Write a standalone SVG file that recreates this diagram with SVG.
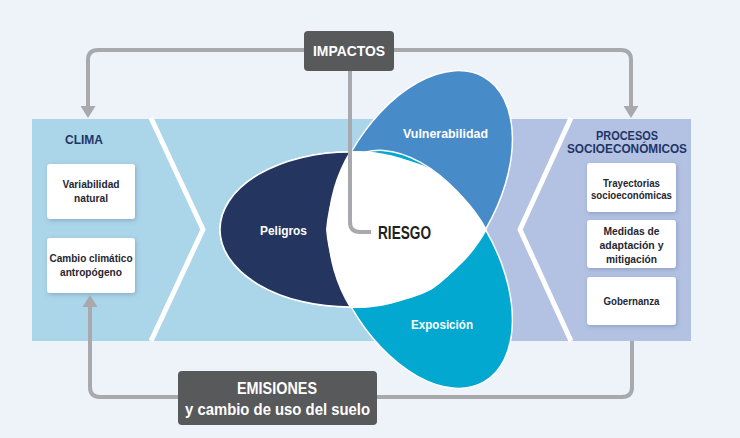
<svg xmlns="http://www.w3.org/2000/svg" width="740" height="438" viewBox="0 0 740 438">
<style>
.bg{fill:#EEF2F9}
.panelL{fill:#ABD5E9}
.panelR{fill:#B3C1E2}
.chev{fill:none;stroke:#fff;stroke-width:5;stroke-linejoin:round}
.conn{fill:none;stroke:#A7A9AC;stroke-width:4}
.dark{fill:#58595B}
.wbox{fill:#fff;filter:url(#sh)}
.t{font-family:"Liberation Sans",Arial,sans-serif;font-weight:bold;text-anchor:middle}
.title{font-size:13px;fill:#1F3566}
.small{font-size:11px;fill:#262631}
.petal{font-size:12.5px;fill:#fff}
.big{font-size:16px;fill:#fff}
.ell{stroke:#fff;stroke-width:1.5}
</style>
<defs>
<filter id="sh" x="-20%" y="-20%" width="140%" height="150%">
<feDropShadow dx="1" dy="1.5" stdDeviation="2" flood-color="#4A5E8C" flood-opacity="0.35"/>
</filter>
<marker id="arr" viewBox="0 0 12 15" refX="0" refY="7.5" markerWidth="12" markerHeight="15" markerUnits="userSpaceOnUse" orient="auto">
<path d="M0,0 L12,7.5 L0,15 Z" fill="#A7A9AC"/>
</marker>
<clipPath id="clipV"><ellipse cx="350" cy="229.5" rx="130" ry="77.5" transform="rotate(120 396 229.5)"/></clipPath>
<clipPath id="clipE"><ellipse cx="350" cy="229.5" rx="130" ry="77.5" transform="rotate(-120 396 229.5)"/></clipPath>
<clipPath id="clipLeft"><rect x="200" y="140" width="162" height="180"/></clipPath>
</defs>
<rect class="bg" x="0" y="0" width="740" height="438"/>

<g id="node-clima">
<rect class="panelL" x="32" y="119" width="480" height="222"/>
<polyline class="chev" points="151,118 203,229.5 151,341"/>
<text class="t title" x="84" y="144" textLength="38" lengthAdjust="spacingAndGlyphs">CLIMA</text>
</g>

<g id="node-procesos">
<rect class="panelR" x="512" y="119" width="179" height="222"/>
<polygon class="panelR" points="512,150 470,229.5 512,309"/>
<polyline class="chev" points="571,118 520,229.5 571,341"/>
<text class="t title" x="627" y="140" textLength="62" lengthAdjust="spacingAndGlyphs">PROCESOS</text>
<text class="t title" x="627" y="153" textLength="120" lengthAdjust="spacingAndGlyphs">SOCIOECONÓMICOS</text>
</g>

<g id="node-variabilidad">
<rect class="wbox" x="47" y="164" width="88" height="55" rx="3"/>
<text class="t small" x="91" y="188" textLength="57" lengthAdjust="spacingAndGlyphs">Variabilidad</text>
<text class="t small" x="91" y="202" textLength="34" lengthAdjust="spacingAndGlyphs">natural</text>
</g>

<g id="node-cambio">
<rect class="wbox" x="47" y="238" width="88" height="55" rx="3"/>
<text class="t small" x="91" y="261.5" textLength="83" lengthAdjust="spacingAndGlyphs">Cambio climático</text>
<text class="t small" x="91" y="275.5" textLength="62" lengthAdjust="spacingAndGlyphs">antropógeno</text>
</g>

<g id="node-trayectorias">
<rect class="wbox" x="587" y="163" width="89" height="49" rx="3"/>
<text class="t small" x="631.5" y="186.5" textLength="57" lengthAdjust="spacingAndGlyphs">Trayectorias</text>
<text class="t small" x="631.5" y="198.5" textLength="81" lengthAdjust="spacingAndGlyphs">socioeconómicas</text>
</g>

<g id="node-medidas">
<rect class="wbox" x="587" y="220" width="89" height="48" rx="3"/>
<text class="t small" x="631.5" y="235" textLength="56" lengthAdjust="spacingAndGlyphs">Medidas de</text>
<text class="t small" x="631.5" y="249" textLength="64" lengthAdjust="spacingAndGlyphs">adaptación y</text>
<text class="t small" x="631.5" y="262.5" textLength="51" lengthAdjust="spacingAndGlyphs">mitigación</text>
</g>

<g id="node-gobernanza">
<rect class="wbox" x="587" y="277" width="89" height="48" rx="3"/>
<text class="t small" x="631.5" y="305" textLength="56" lengthAdjust="spacingAndGlyphs">Gobernanza</text>
</g>

<g id="node-peligros">
<ellipse class="ell" cx="350" cy="229.5" rx="130" ry="77.5" fill="#243660"/>
</g>
<g id="node-vulnerabilidad">
<ellipse class="ell" cx="350" cy="229.5" rx="130" ry="77.5" transform="rotate(120 396 229.5)" fill="#478BC9"/>
</g>
<g id="node-exposicion">
<ellipse class="ell" cx="350" cy="229.5" rx="130" ry="77.5" transform="rotate(-120 396 229.5)" fill="#02A8D0"/>
</g>
<g id="peligros-left" clip-path="url(#clipLeft)">
<ellipse class="ell" cx="350" cy="229.5" rx="130" ry="77.5" fill="#243660"/>
</g>

<g id="node-riesgo">
<g clip-path="url(#clipV)"><g clip-path="url(#clipE)"><ellipse cx="350" cy="229.5" rx="130" ry="77.5" fill="#fff"/></g></g>
<path d="M350,151 A150,150 0 0,1 487,229.5 A150,150 0 0,1 350,308 A150,150 0 0,1 350,151 Z" fill="#fff"/>
</g>

<g id="labels-petals">
<text class="t petal" x="283.5" y="234.5" textLength="47" lengthAdjust="spacingAndGlyphs">Peligros</text>
<text class="t petal" x="445.5" y="137.5" textLength="85" lengthAdjust="spacingAndGlyphs">Vulnerabilidad</text>
<text class="t petal" x="442" y="328.5" textLength="62" lengthAdjust="spacingAndGlyphs">Exposición</text>
</g>

<g id="connectors">
<path class="conn" d="M304,50 H98 Q88,50 88,60 V106" marker-end="url(#arr)"/>
<path class="conn" d="M394,50 H621 Q631,50 631,60 V106" marker-end="url(#arr)"/>
<path class="conn" d="M350,71 V222 Q350,232 360,232 H371"/>
<path class="conn" d="M178,397 H100 Q90,397 90,387 V307" marker-end="url(#arr)"/>
<path class="conn" d="M632,341 V387 Q632,397 622,397 H377"/>
</g>

<g id="node-riesgo-label">
<text class="t" x="378" y="238.5" style="text-anchor:start;font-size:18px;fill:#231F20" textLength="53" lengthAdjust="spacingAndGlyphs">RIESGO</text>
</g>

<g id="node-impactos">
<rect class="dark" x="304" y="31" width="90" height="40" rx="4"/>
<text class="t big" x="349" y="55.5" style="font-size:15px" textLength="72" lengthAdjust="spacingAndGlyphs">IMPACTOS</text>
</g>

<g id="node-emisiones">
<rect class="dark" x="178" y="371" width="199" height="54" rx="4"/>
<text class="t big" x="277" y="394" textLength="80" lengthAdjust="spacingAndGlyphs">EMISIONES</text>
<text class="t big" x="277.5" y="415" textLength="185" lengthAdjust="spacingAndGlyphs">y cambio de uso del suelo</text>
</g>
</svg>
